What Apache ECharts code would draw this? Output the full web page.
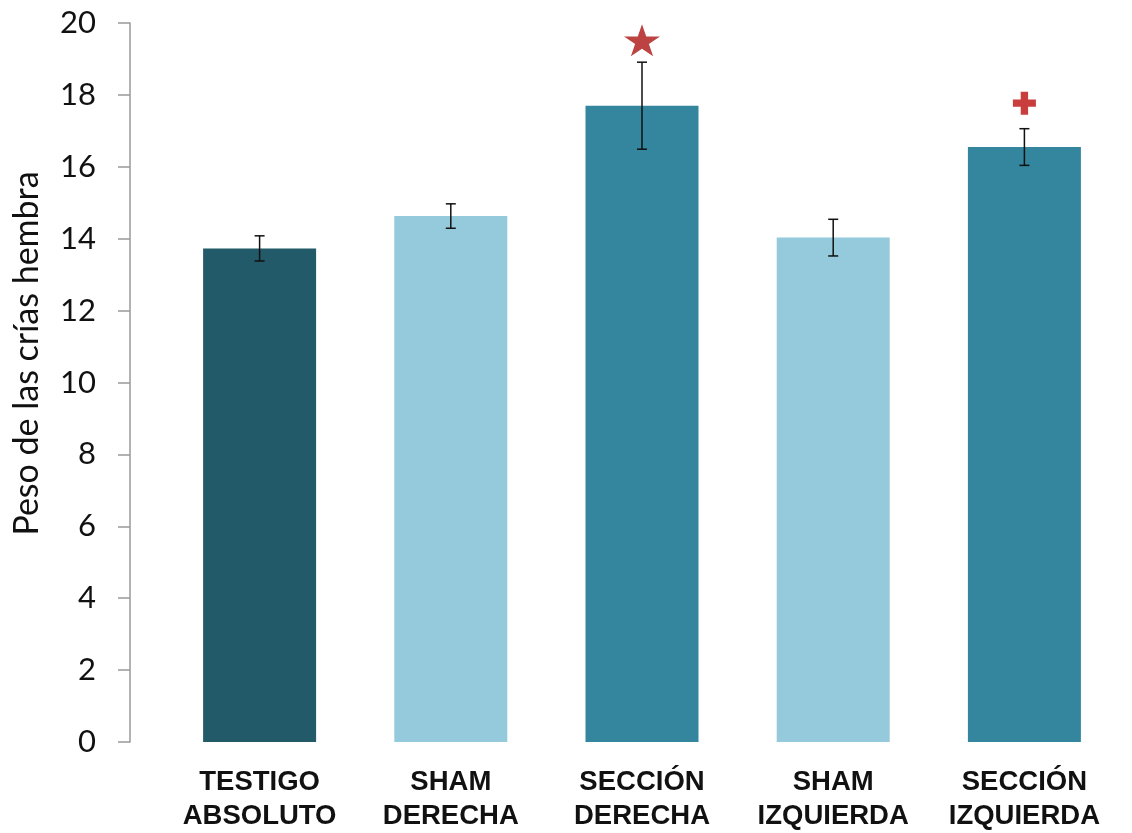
<!DOCTYPE html>
<html>
<head>
<meta charset="utf-8">
<script src="https://cdn.jsdelivr.net/npm/echarts@6/dist/echarts.min.js"></script>
<style>
  html, body { margin: 0; padding: 0; background: #fff; }
  #chart { width: 1132px; height: 833px; }
</style>
</head>
<body>
<div id="chart"></div>
<script>
// Peso de las crías hembra por grupo experimental (media ± error)
const categories = ['TESTIGO\nABSOLUTO', 'SHAM\nDERECHA', 'SECCIÓN\nDERECHA', 'SHAM\nIZQUIERDA', 'SECCIÓN\nIZQUIERDA'];
const means = [13.73, 14.63, 17.70, 14.03, 16.55];
const errors = [0.35, 0.34, 1.21, 0.51, 0.51];
const barColors = ['#235a69', '#94cadb', '#33869d', '#94cadb', '#33869d'];
const yTicks = { min: 0, max: 20, interval: 2 };
// Significance markers: [category index, height]
const starMarks = [[2, 19.52]];
const crossMarks = [[4, 17.77]];

const STAR = 'path://M50,0 L61.2,34.5 L97.6,34.5 L68.2,55.9 L79.4,90.5 L50,69.1 L20.6,90.5 L31.8,55.9 L2.4,34.5 L38.8,34.5 Z';
const CROSS = 'path://M34,0 H66 V34 H100 V66 H66 V100 H34 V66 H0 V34 H34 Z';

const chart = echarts.init(document.getElementById('chart'));

chart.setOption({
  backgroundColor: '#ffffff',
  animation: false,
  grid: { left: 164, right: 12, top: 23, bottom: 88, containLabel: false },
  xAxis: {
    type: 'category',
    data: categories,
    axisLine: { show: false },
    axisTick: { show: false },
    axisLabel: {
      interval: 0,
      margin: 23,
      fontFamily: 'Liberation Sans, Arial, sans-serif',
      fontWeight: 'bold',
      fontSize: 27.5,
      lineHeight: 34,
      color: '#111'
    }
  },
  yAxis: {
    type: 'value',
    min: yTicks.min,
    max: yTicks.max,
    interval: yTicks.interval,
    offset: 34,
    name: 'Peso de las crías hembra',
    nameLocation: 'middle',
    nameGap: 86,
    nameTextStyle: { fontFamily: 'Lato, sans-serif', fontSize: 34, color: '#111', padding: [0, 0, 0, 58] },
    splitLine: { show: false },
    axisLine: { show: true, lineStyle: { color: '#999', width: 1.5 } },
    axisTick: { show: true, inside: false, length: 12, lineStyle: { color: '#999', width: 1.5 } },
    axisLabel: { margin: 34, fontFamily: 'Lato, sans-serif', fontSize: 31, color: '#111' }
  },
  series: [
    {
      type: 'bar',
      barWidth: 113,
      data: means.map((v, i) => ({ value: v, itemStyle: { color: barColors[i] } }))
    },
    {
      type: 'custom',
      z: 5,
      data: means.map((v, i) => [i, v - errors[i], v + errors[i]]),
      renderItem: function (params, api) {
        const lo = api.coord([api.value(0), api.value(1)]);
        const hi = api.coord([api.value(0), api.value(2)]);
        const cap = 5;
        const style = { stroke: '#111', lineWidth: 1.5 };
        return {
          type: 'group',
          children: [
            { type: 'line', shape: { x1: lo[0], y1: lo[1], x2: hi[0], y2: hi[1] }, style: style },
            { type: 'line', shape: { x1: lo[0] - cap, y1: lo[1], x2: lo[0] + cap, y2: lo[1] }, style: style },
            { type: 'line', shape: { x1: hi[0] - cap, y1: hi[1], x2: hi[0] + cap, y2: hi[1] }, style: style }
          ]
        };
      }
    },
    {
      type: 'scatter',
      symbol: STAR,
      symbolSize: [36, 32],
      itemStyle: { color: '#bd4343', opacity: 1 },
      data: starMarks
    },
    {
      type: 'scatter',
      symbol: CROSS,
      symbolSize: 23,
      itemStyle: { color: '#c93d3d', opacity: 1 },
      data: crossMarks
    }
  ]
});
</script>
</body>
</html>
